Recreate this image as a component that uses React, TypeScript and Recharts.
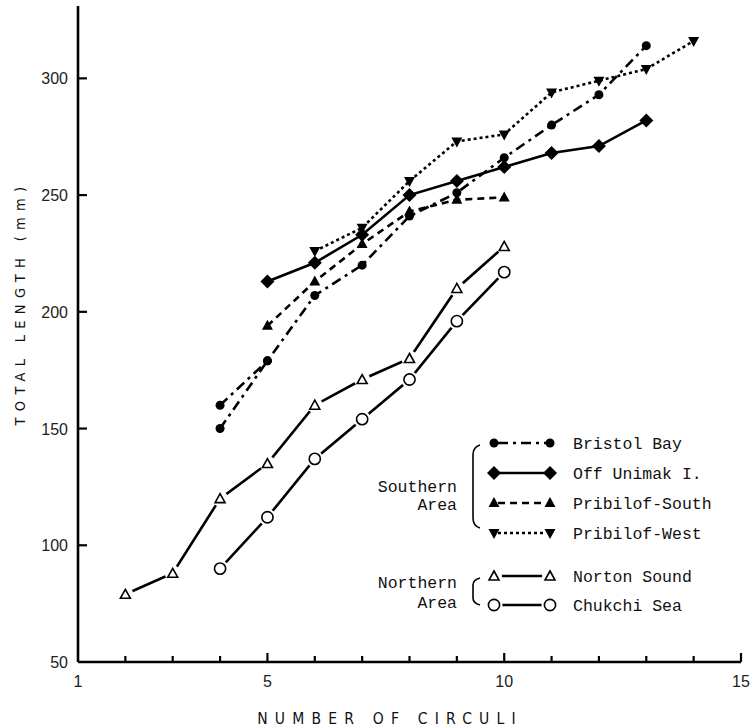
import React from 'react';
import { LineChart, Line, XAxis, YAxis, Legend } from 'recharts';

// axis ticks
const xTicks = [1, 2, 3, 4, 5, 6, 7, 8, 9, 10, 11, 12, 13, 14, 15];
const xTickLabels = [1, 5, 10, 15];
const yTicks = [50, 100, 150, 200, 250, 300];

// Southern Area
const bristolCirculi = [4, 5, 6, 7, 8, 9, 10, 11, 12, 13];
const bristolLength = [150, 179, 207, 220, 241, 251, 266, 280, 293, 314];
const bristolExtraCirculi = [4, 5];
const bristolExtraLength = [160, 179];
const unimakCirculi = [5, 6, 7, 8, 9, 10, 11, 12, 13];
const unimakLength = [213, 221, 233, 250, 256, 262, 268, 271, 282];
const pribSouthCirculi = [5, 6, 7, 8, 9, 10];
const pribSouthLength = [194, 213, 229, 243, 248, 249];
const pribWestCirculi = [6, 7, 8, 9, 10, 11, 12, 13, 14];
const pribWestLength = [226, 236, 256, 273, 276, 294, 299, 304, 316];

// Northern Area
const nortonCirculi = [2, 3, 4, 5, 6, 7, 8, 9, 10];
const nortonLength = [79, 88, 120, 135, 160, 171, 180, 210, 228];
const chukchiCirculi = [4, 5, 6, 7, 8, 9, 10];
const chukchiLength = [90, 112, 137, 154, 171, 196, 217];

const toPoints = (xs: number[], ys: number[]) => xs.map((x, i) => ({ x, y: ys[i] }));

type Shape = 'dot' | 'diamond' | 'triUp' | 'triDown' | 'openTri' | 'openCircle';

const series = [
  { name: 'Bristol Bay', data: toPoints(bristolCirculi, bristolLength), dash: '10 5 3 5', shape: 'dot' as Shape },
  { name: 'Off Unimak I.', data: toPoints(unimakCirculi, unimakLength), dash: undefined, shape: 'diamond' as Shape },
  { name: 'Pribilof-South', data: toPoints(pribSouthCirculi, pribSouthLength), dash: '7 5', shape: 'triUp' as Shape },
  { name: 'Pribilof-West', data: toPoints(pribWestCirculi, pribWestLength), dash: '3 3', shape: 'triDown' as Shape },
  { name: 'Norton Sound', data: toPoints(nortonCirculi, nortonLength), dash: undefined, shape: 'openTri' as Shape },
  { name: 'Chukchi Sea', data: toPoints(chukchiCirculi, chukchiLength), dash: undefined, shape: 'openCircle' as Shape },
];
const bristolExtra = toPoints(bristolExtraCirculi, bristolExtraLength);

const tickFont = "'Liberation Sans', Arial, sans-serif";
const narrowFont = "'Liberation Sans Narrow', 'DejaVu Sans Condensed', sans-serif";
const monoFont = "'Liberation Mono', 'DejaVu Sans Mono', monospace";

const Marker = ({ shape, cx, cy }: { shape: Shape; cx: number; cy: number }) => {
  switch (shape) {
    case 'dot':
      return <circle cx={cx} cy={cy} r={4.5} fill="#000" />;
    case 'diamond':
      return <polygon points={`${cx},${cy - 7} ${cx + 7},${cy} ${cx},${cy + 7} ${cx - 7},${cy}`} fill="#000" />;
    case 'triUp':
      return <polygon points={`${cx},${cy - 6} ${cx + 5.5},${cy + 4} ${cx - 5.5},${cy + 4}`} fill="#000" />;
    case 'triDown':
      return <polygon points={`${cx},${cy + 6} ${cx + 5.5},${cy - 4} ${cx - 5.5},${cy - 4}`} fill="#000" />;
    case 'openTri':
      return (
        <g>
          <circle cx={cx} cy={cy} r={8} fill="#fff" />
          <polygon points={`${cx},${cy - 5} ${cx + 5},${cy + 4} ${cx - 5},${cy + 4}`} fill="#fff" stroke="#000" strokeWidth={1.6} />
        </g>
      );
    case 'openCircle':
      return (
        <g>
          <circle cx={cx} cy={cy} r={8.5} fill="#fff" />
          <circle cx={cx} cy={cy} r={5.6} fill="#fff" stroke="#000" strokeWidth={1.6} />
        </g>
      );
  }
  return null;
};

const dotFor = (shape: Shape) => (props: any) => {
  const { cx, cy, index } = props;
  if (cx == null || cy == null) return <g key={index} />;
  return <Marker key={index} shape={shape} cx={cx} cy={cy} />;
};

const XTick = (props: any) => {
  const { x, y, payload } = props;
  const v = payload.value;
  const major = v % 5 === 0;
  return (
    <g>
      {v !== 1 && <line x1={x} y1={y} x2={x} y2={y - (major ? 9 : 6)} stroke="#000" strokeWidth={2.2} />}
      {xTickLabels.includes(v) && (
        <text x={x} y={y + 25} textAnchor="middle" fontFamily={tickFont} fontSize={16} style={{ fill: '#222' }}>
          {v}
        </text>
      )}
    </g>
  );
};

const YTick = (props: any) => {
  const { x, y, payload } = props;
  const v = payload.value;
  return (
    <g>
      {v !== 50 && <line x1={x} y1={y} x2={x + 9} y2={y} stroke="#000" strokeWidth={2.2} />}
      <text x={x - 10} y={y + 6} textAnchor="end" fontFamily={tickFont} fontSize={16} style={{ fill: '#222' }}>
        {v}
      </text>
    </g>
  );
};

const XTitle = (props: any) => {
  const { viewBox } = props;
  return (
    <text x={viewBox.x + 312} y={viewBox.y + 62} textAnchor="middle" fontFamily={narrowFont} fontSize={15.5} letterSpacing={7.2} style={{ fill: '#111' }}>
      NUMBER OF CIRCULI
    </text>
  );
};

const YTitle = (props: any) => {
  const { viewBox } = props;
  const cx = viewBox.x + 2;
  const cy = 303;
  return (
    <text x={cx} y={cy} transform={`rotate(-90 ${cx} ${cy})`} textAnchor="middle" dominantBaseline="central" fontFamily={narrowFont} fontSize={14.5} letterSpacing={6.3} style={{ fill: '#111' }}>
      TOTAL LENGTH (mm)
    </text>
  );
};

const legendRows = [18, 48, 78, 108, 151, 180];

const LegendBox = () => (
  <svg width={390} height={200}>
    {series.map((s, i) => {
      const y = legendRows[i];
      return (
        <g key={s.name}>
          <line x1={138} y1={y} x2={186} y2={y} stroke="#000" strokeWidth={2.6} strokeDasharray={s.dash} />
          <Marker shape={s.shape} cx={134} cy={y} />
          <Marker shape={s.shape} cx={190} cy={y} />
          <text x={213} y={y + 6} fontFamily={monoFont} fontSize={16.5} fill="#111">
            {s.name}
          </text>
        </g>
      );
    })}
    <text x={97} y={67} textAnchor="end" fontFamily={monoFont} fontSize={16.5} fill="#111">Southern</text>
    <text x={97} y={85} textAnchor="end" fontFamily={monoFont} fontSize={16.5} fill="#111">Area</text>
    <path d="M 120 20 Q 113 22 113 30 L 113 93 Q 113 101 120 103" fill="none" stroke="#000" strokeWidth={1.6} />
    <text x={97} y={163} textAnchor="end" fontFamily={monoFont} fontSize={16.5} fill="#111">Northern</text>
    <text x={97} y={183} textAnchor="end" fontFamily={monoFont} fontSize={16.5} fill="#111">Area</text>
    <path d="M 120 153 Q 113 155 113 160 L 113 173 Q 113 178 120 180" fill="none" stroke="#000" strokeWidth={1.6} />
  </svg>
);

export default function App() {
  return (
    <div style={{ position: 'absolute', left: 0, top: 0, width: 754, height: 728, background: '#fff' }}>
      <LineChart width={754} height={728} margin={{ top: 6, right: 13, left: 18, bottom: 26 }}>
        <XAxis
          dataKey="x"
          type="number"
          domain={[1, 15]}
          ticks={xTicks}
          interval={0}
          allowDataOverflow
          height={40}
          tickSize={0}
          tickMargin={0}
          tick={<XTick />}
          axisLine={{ stroke: '#000', strokeWidth: 2.6 }}
          label={<XTitle />}
        />
        <YAxis
          dataKey="y"
          type="number"
          domain={[50, 331]}
          ticks={yTicks}
          interval={0}
          allowDataOverflow
          width={60}
          tickSize={0}
          tickMargin={0}
          tick={<YTick />}
          axisLine={{ stroke: '#000', strokeWidth: 2.6 }}
          label={<YTitle />}
        />
        <Legend
          layout="horizontal"
          verticalAlign="middle"
          align="center"
          content={() => <LegendBox />}
          wrapperStyle={{ left: 360, top: 425, width: 390, height: 200 }}
        />
        <Line
          data={bristolExtra}
          dataKey="y"
          name="Bristol Bay (second value)"
          legendType="none"
          stroke="#000"
          strokeWidth={2.6}
          strokeDasharray="10 5 3 5"
          dot={dotFor('dot')}
          activeDot={false}
          isAnimationActive={false}
        />
        {series.map((s) => (
          <Line
            key={s.name}
            data={s.data}
            dataKey="y"
            name={s.name}
            stroke="#000"
            strokeWidth={2.6}
            strokeDasharray={s.dash}
            dot={dotFor(s.shape)}
            activeDot={false}
            isAnimationActive={false}
          />
        ))}
      </LineChart>
    </div>
  );
}
